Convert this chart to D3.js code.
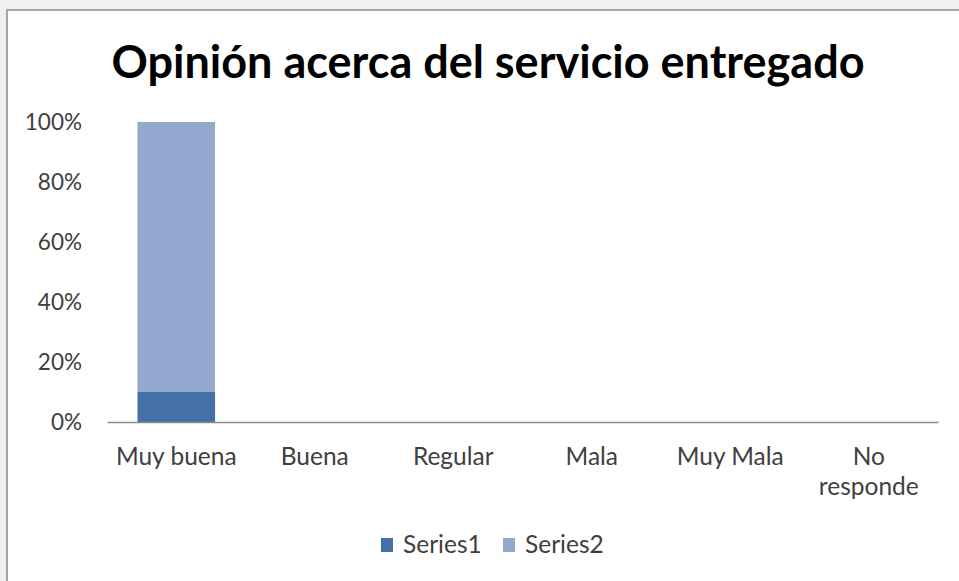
<!DOCTYPE html>
<html><head><meta charset="utf-8">
<script src="https://cdn.jsdelivr.net/npm/d3@7"></script>
<style>
html,body{margin:0;padding:0;background:#f0f0f0;}
svg{display:block;font-family:Lato,"Open Sans",sans-serif;}
</style></head>
<body>
<svg id="chart" width="959" height="581"></svg>
<script>
const categories = ["Muy buena","Buena","Regular","Mala","Muy Mala","No responde"];
const series1 = [0.10, 0, 0, 0, 0, 0];
const series2 = [0.90, 0, 0, 0, 0, 0];
const seriesNames = ["Series1","Series2"];
const colors = ["#4571a8","#93a8ce"];
const yTicks = [0,0.2,0.4,0.6,0.8,1.0];
const title = "Opinión acerca del servicio entregado";

const svg = d3.select("#chart");
svg.append("rect").attr("x",7).attr("y",10).attr("width",960).attr("height",580)
  .attr("fill","#fff").attr("stroke","#a6a6a6").attr("stroke-width",2);

const m = {left:107, right:938, top:122, bottom:422};
const x = d3.scaleBand().domain(categories).range([m.left,m.right]).paddingInner(0.44).paddingOuter(0.22);
const y = d3.scaleLinear().domain([0,1]).range([m.bottom,m.top]);

svg.append("text").attr("x",488).attr("y",78).attr("text-anchor","middle")
  .attr("font-size",45).attr("font-weight","bold").attr("fill","#000").text(title);

const ya = svg.append("g").attr("transform",`translate(${m.left},0)`)
  .call(d3.axisLeft(y).tickValues(yTicks).tickFormat(d3.format(".0%")).tickSize(0).tickPadding(25));
ya.select(".domain").remove();
ya.selectAll("text").attr("font-size",22.5).attr("fill","#404040").attr("font-family","Lato");

const rows = categories.map((c,i)=>({cat:c, Series1:series1[i], Series2:series2[i]}));
const stack = d3.stack().keys(seriesNames)(rows);
svg.append("g").selectAll("g").data(stack).join("g").attr("fill",(d,i)=>colors[i])
  .selectAll("rect").data(d=>d).join("rect")
  .attr("x",d=>x(d.data.cat)).attr("width",x.bandwidth())
  .attr("y",d=>y(d[1])).attr("height",d=>y(d[0])-y(d[1]));

const xa = svg.append("g").attr("transform",`translate(0,${m.bottom})`)
  .call(d3.axisBottom(x).tickSize(0).tickPadding(0));
xa.select(".domain").attr("stroke","#8c8c8c").attr("stroke-width",1.5);
xa.selectAll("text").remove();
xa.selectAll(".tick").each(function(d){
  const words = d === "No responde" ? ["No","responde"] : [d];
  const t = d3.select(this).append("text").attr("text-anchor","middle")
    .attr("font-size",24.5).attr("fill","#404040").attr("font-family","Lato");
  words.forEach((w,i)=>t.append("tspan").attr("x",0).attr("y",43+i*30).text(w));
});

const lg = svg.append("g").attr("transform","translate(381,538)");
const items = [{n:"Series1",x:0},{n:"Series2",x:122}];
items.forEach((it,i)=>{
  lg.append("rect").attr("x",it.x).attr("y",0).attr("width",12).attr("height",14).attr("fill",colors[i]);
  lg.append("text").attr("x",it.x+22).attr("y",15).attr("font-size",24.5).attr("fill","#404040").text(it.n);
});
</script>
</body></html>
